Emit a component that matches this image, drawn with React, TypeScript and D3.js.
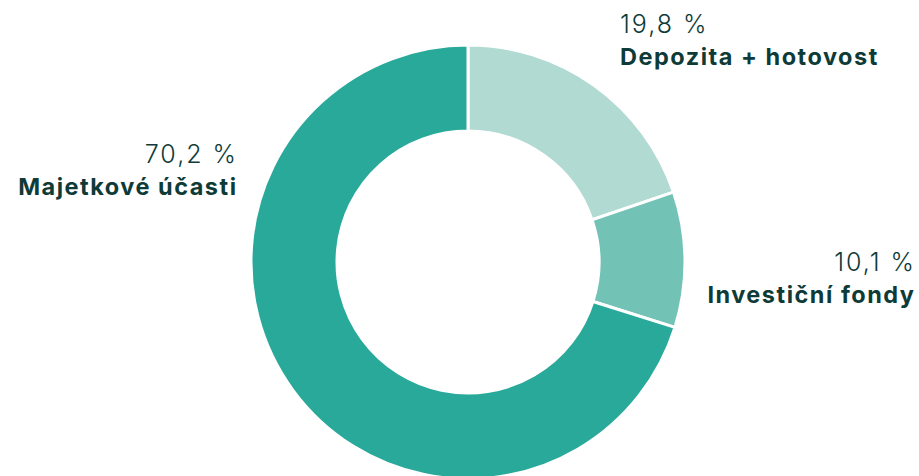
import React from "react";
import * as d3 from "d3";

const categories = ["Depozita + hotovost", "Investiční fondy", "Majetkové účasti"];
const values = [19.8, 10.1, 70.2];
const valueLabels = ["19,8 %", "10,1 %", "70,2 %"];
const colors = ["#b0dad2", "#72c3b6", "#29a99a"];

const W = 919, H = 476;
const cx = 468, cy = 262, R = 217, r = 131;
const textColor = "#0e3b38";

const labelPos = [
  { x: 620, y1: 33, y2: 65, anchor: "start" },
  { x: 914, y1: 271, y2: 303, anchor: "end" },
  { x: 236, y1: 163, y2: 195, anchor: "end" },
];

const numSpacing = 2;
const nameSpacing = 1.5;

export default function App() {
  const pie = d3.pie<number>().value((d) => d).sort(null);
  const arcs = pie(values);
  const arc = d3.arc<d3.PieArcDatum<number>>().innerRadius(r).outerRadius(R);
  return (
    <svg width={W} height={H} style={{ position: "absolute", left: 0, top: 0 }}>
      <g transform={`translate(${cx},${cy})`}>
        {arcs.map((a, i) => (
          <path key={i} d={arc(a) || ""} fill={colors[i]} stroke="#fff" strokeWidth={3} />
        ))}
      </g>
      {categories.map((c, i) => {
        const p = labelPos[i];
        const isEnd = p.anchor === "end";
        return (
          <g key={c} fill={textColor} textAnchor={p.anchor as any} fontFamily="Inter, 'Noto Sans', sans-serif">
            <text x={p.x + (isEnd ? numSpacing : 0)} y={p.y1} fontSize={25} fontWeight={300} letterSpacing={numSpacing}>
              {valueLabels[i]}
            </text>
            <text x={p.x + (isEnd ? nameSpacing : 0)} y={p.y2} fontSize={23.5} fontWeight={750} letterSpacing={nameSpacing}>
              {c}
            </text>
          </g>
        );
      })}
    </svg>
  );
}
